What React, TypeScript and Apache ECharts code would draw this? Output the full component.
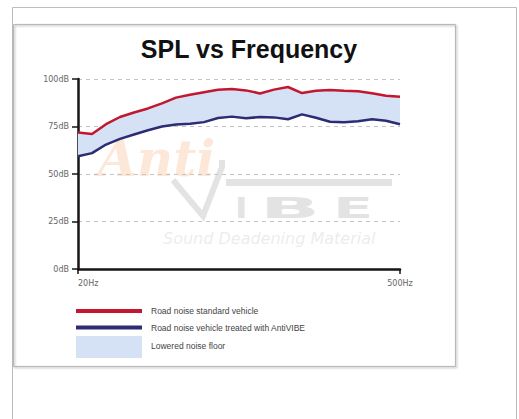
import React, { useEffect, useRef } from "react";
import * as echarts from "echarts";

const title = "SPL vs Frequency";
const frequencies = [20, 23, 26, 30, 35, 40, 46, 53, 60, 70, 80, 92, 105, 120, 140, 160, 185, 210, 240, 280, 320, 370, 430, 500];
const standardVehicle = [71.8, 71.0, 76.2, 80.0, 82.4, 84.5, 87.2, 90.2, 91.7, 93.0, 94.3, 94.7, 94.0, 92.4, 94.4, 95.8, 92.6, 93.8, 94.2, 93.8, 93.5, 92.5, 91.2, 90.6];
const treatedVehicle = [59.3, 61.0, 65.5, 68.5, 70.8, 73.0, 75.0, 76.0, 76.5, 77.3, 79.5, 80.2, 79.3, 80.0, 79.8, 78.8, 81.4, 79.6, 77.5, 77.2, 77.8, 78.8, 78.0, 76.2];
const yTicks = [0, 25, 50, 75, 100];
const legendLabels = [
  "Road noise standard vehicle",
  "Road noise vehicle treated with AntiVIBE",
  "Lowered noise floor",
];

const RED = "#c3162f";
const BLUE = "#2b2c73";
const FILL = "#d5e2f5";
const WM_GRAY = "rgba(200,200,200,0.5)";

export default function App() {
  const ref = useRef<HTMLDivElement>(null);
  useEffect(() => {
    if (!ref.current) return;
    const chart = echarts.init(ref.current, null, { renderer: "svg" });
    const last = frequencies.length - 1;
    const band = standardVehicle.map((v, i) => +(v - treatedVehicle[i]).toFixed(2));
    const labelFont = "DejaVu Sans";
    const wmLetter = (text: string, x: number, scaleX: number) => ({
      type: "text",
      z: 0,
      x,
      y: 208,
      scaleX,
      silent: true,
      style: {
        text,
        fill: WM_GRAY,
        font: "bold 28px 'DejaVu Sans', sans-serif",
        align: "left",
        verticalAlign: "middle",
      },
    });
    chart.setOption({
      animation: false,
      backgroundColor: "#fff",
      grid: { left: 78, right: 119, top: 79, bottom: 150, containLabel: false },
      xAxis: {
        type: "category",
        boundaryGap: false,
        data: frequencies.map(String),
        axisLine: { show: true, lineStyle: { color: "#151515", width: 2.5 } },
        axisTick: {
          show: true,
          length: 5,
          interval: (i: number) => i === 0 || i === last,
          lineStyle: { color: "#151515", width: 1.5 },
        },
        axisLabel: {
          interval: (i: number) => i === 0 || i === last,
          formatter: "{value}Hz",
          color: "#666",
          fontSize: 8,
          fontFamily: labelFont,
          margin: 10,
          alignMinLabel: "left",
          showMinLabel: true,
          showMaxLabel: true,
        },
        splitLine: { show: false },
      },
      yAxis: {
        type: "value",
        min: yTicks[0],
        max: yTicks[yTicks.length - 1],
        interval: 25,
        axisLine: { show: true, lineStyle: { color: "#151515", width: 2.5 } },
        axisTick: { show: true, length: 6, lineStyle: { color: "#151515", width: 1.5 } },
        axisLabel: {
          formatter: "{value}dB",
          color: "#666",
          fontSize: 8,
          fontFamily: labelFont,
          margin: 9,
        },
        splitLine: { show: true, lineStyle: { color: "#c4c4c4", type: [4, 4], width: 1 } },
      },
      graphic: [
        // frames
        {
          type: "rect",
          z: 0,
          shape: { x: 12.5, y: 7.5, width: 504, height: 430 },
          style: { fill: "none", stroke: "#bdbdbd", lineWidth: 1 },
          silent: true,
        },
        {
          type: "rect",
          z: 0,
          shape: { x: 13.5, y: 24.5, width: 442, height: 342 },
          style: {
            fill: "none",
            stroke: "#b8b8b8",
            lineWidth: 1,
            shadowBlur: 2,
            shadowOffsetX: 1,
            shadowOffsetY: 1,
            shadowColor: "rgba(0,0,0,0.35)",
          },
          silent: true,
        },
        // title
        {
          type: "text",
          z: 10,
          x: 249,
          y: 49,
          style: {
            text: title,
            fill: "#111",
            font: "bold 25px 'Liberation Sans', Arial, sans-serif",
            align: "center",
            verticalAlign: "middle",
          },
        },
        // watermark
        {
          type: "text",
          z: 0,
          x: 98,
          y: 158,
          silent: true,
          style: {
            text: "Anti",
            fill: "rgba(244,160,100,0.25)",
            font: "italic bold 50px 'DejaVu Serif', serif",
            align: "left",
            verticalAlign: "middle",
          },
        },
        {
          type: "polyline",
          z: 0,
          silent: true,
          shape: { points: [[173, 180], [203, 216], [222, 167], [222, 160]] },
          style: { stroke: WM_GRAY, lineWidth: 6, fill: "none" },
        },
        {
          type: "rect",
          z: 0,
          silent: true,
          shape: { x: 226, y: 179, width: 166, height: 7 },
          style: { fill: WM_GRAY },
        },
        wmLetter("I", 235, 1.2),
        wmLetter("B", 260, 2.8),
        wmLetter("E", 333, 2.1),
        {
          type: "text",
          z: 0,
          x: 163,
          y: 238,
          silent: true,
          style: {
            text: "Sound Deadening Material",
            fill: "rgba(200,200,200,0.35)",
            font: "italic 16px 'DejaVu Sans', sans-serif",
            align: "left",
            verticalAlign: "middle",
          },
        },
        // legend
        {
          type: "line",
          z: 10,
          shape: { x1: 76, y1: 311, x2: 142, y2: 311 },
          style: { stroke: RED, lineWidth: 4 },
        },
        {
          type: "line",
          z: 10,
          shape: { x1: 76, y1: 327.5, x2: 142, y2: 327.5 },
          style: { stroke: BLUE, lineWidth: 4 },
        },
        {
          type: "rect",
          z: 10,
          shape: { x: 76, y: 336, width: 66, height: 22 },
          style: { fill: FILL },
        },
        ...legendLabels.map((t, i) => ({
          type: "text",
          z: 10,
          x: 151,
          y: [310.5, 328, 346][i],
          style: {
            text: t,
            fill: "#444",
            font: "8.5px 'Liberation Sans', Arial, sans-serif",
            align: "left",
            verticalAlign: "middle",
          },
        })),
      ],
      series: [
        {
          name: "base",
          type: "line",
          stack: "band",
          data: treatedVehicle,
          symbol: "none",
          silent: true,
          lineStyle: { opacity: 0 },
          z: 2,
        },
        {
          name: legendLabels[2],
          type: "line",
          stack: "band",
          data: band,
          symbol: "none",
          silent: true,
          lineStyle: { opacity: 0 },
          areaStyle: { color: FILL, opacity: 1 },
          z: 2,
        },
        {
          name: legendLabels[0],
          type: "line",
          data: standardVehicle,
          symbol: "none",
          lineStyle: { color: RED, width: 2.5 },
          itemStyle: { color: RED },
          z: 3,
        },
        {
          name: legendLabels[1],
          type: "line",
          data: treatedVehicle,
          symbol: "none",
          lineStyle: { color: BLUE, width: 2.5 },
          itemStyle: { color: BLUE },
          z: 3,
        },
      ],
    });
    return () => chart.dispose();
  }, []);
  return (
    <div
      ref={ref}
      style={{ position: "fixed", left: 0, top: 0, width: 519, height: 419, background: "#fff" }}
    />
  );
}
